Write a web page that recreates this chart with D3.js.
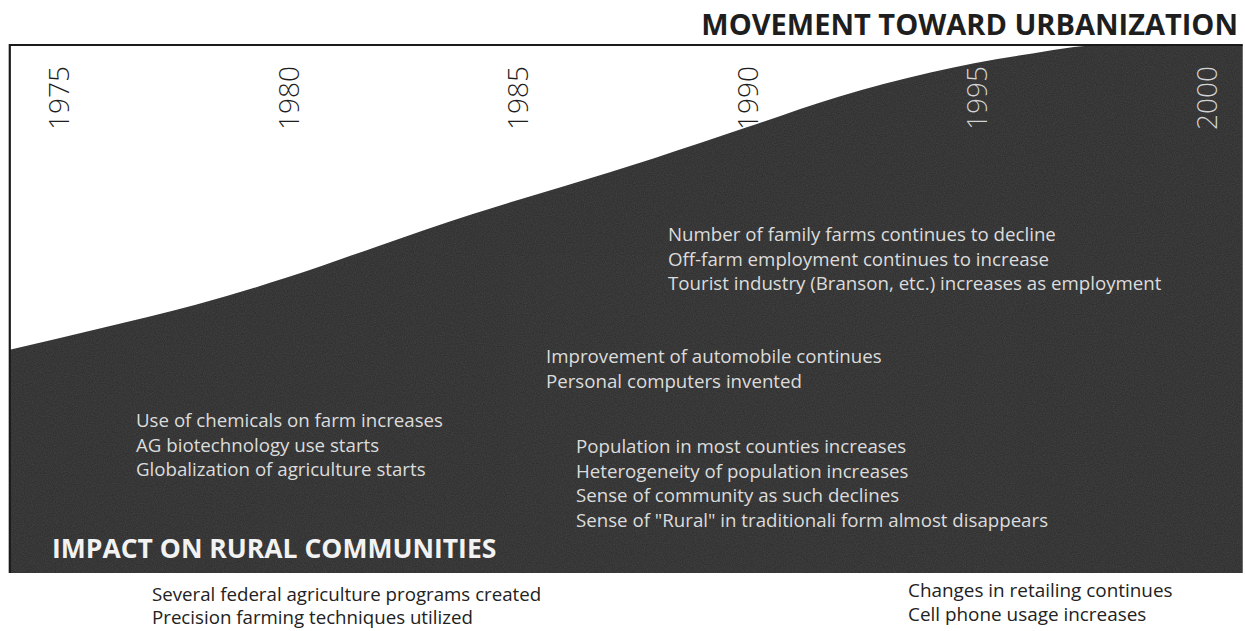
<!DOCTYPE html>
<html>
<head>
<meta charset="utf-8">
<script src="https://cdn.jsdelivr.net/npm/d3@7"></script>
<style>
  html, body { margin: 0; padding: 0; background: #fff; }
  svg { display: block; }
</style>
</head>
<body>
<svg id="chart" width="1245" height="631"></svg>
<script>
// ---------- data ----------
const yearTicks = [1975, 1980, 1985, 1990, 1995, 2000];
const curveYears  = [1973.95, 1976, 1978, 1980, 1982, 1984, 1986, 1988, 1990, 1992, 1994, 1996, 1997.8, 2000.8];
const curveValues = [42.3, 46.5, 50.8, 56.0, 62.0, 67.9, 73.2, 78.6, 84.4, 90.2, 94.8, 98.1, 100, 100];
const titleText = "MOVEMENT TOWARD URBANIZATION";
const impactText = "IMPACT ON RURAL COMMUNITIES";
const notesChemicals = ["Use of chemicals on farm increases", "AG biotechnology use starts", "Globalization of agriculture starts"];
const notesFarms = ["Number of family farms continues to decline", "Off-farm employment continues to increase", "Tourist industry (Branson, etc.) increases as employment"];
const notesAuto = ["Improvement of automobile continues", "Personal computers invented"];
const notesPopulation = ["Population in most counties increases", "Heterogeneity of population increases", "Sense of community as such declines", "Sense of \"Rural\" in traditionali form almost disappears"];
const notesFederal = ["Several federal agriculture programs created", "Precision farming techniques utilized"];
const notesRetail = ["Changes in retailing continues", "Cell phone usage increases"];

// ---------- layout ----------
const W = 1245, H = 631;
const svg = d3.select("#chart");
const x = d3.scaleLinear().domain([1975, 2000]).range([58, 1206]);
const y = d3.scaleLinear().domain([0, 100]).range([573, 45]);
const xStart = curveYears[0], xEnd = curveYears[curveYears.length - 1];
const font = "'Open Sans', 'Noto Sans', sans-serif";

const data = curveYears.map((yr, i) => ({ year: yr, value: curveValues[i] }));

const defs = svg.append("defs");
const area = d3.area()
  .x(d => x(d.year))
  .y0(y(0))
  .y1(d => y(d.value))
  .curve(d3.curveMonotoneX);

defs.append("clipPath").attr("id", "areaClip")
  .append("path").attr("d", area(data));

const noise = defs.append("filter").attr("id", "grain")
  .attr("x", 0).attr("y", 0).attr("width", "100%").attr("height", "100%");
noise.append("feTurbulence").attr("type", "fractalNoise")
  .attr("baseFrequency", 0.9).attr("numOctaves", 2).attr("seed", 3).attr("result", "n");
noise.append("feColorMatrix").attr("type", "matrix")
  .attr("values", "0 0 0 0 1  0 0 0 0 1  0 0 0 0 1  0 0 0 0.35 -0.05");

// dark area
svg.append("path")
  .attr("d", area(data))
  .attr("fill", "#2f2f2f");

svg.append("rect")
  .attr("x", x(xStart)).attr("y", y(100))
  .attr("width", x(xEnd) - x(xStart)).attr("height", y(0) - y(100))
  .attr("filter", "url(#grain)")
  .attr("clip-path", "url(#areaClip)")
  .attr("opacity", 0.35);

// frame: left and top lines
svg.append("path")
  .attr("d", `M${x(xStart)},${y(0)} L${x(xStart)},${y(100)} L${x(xEnd)},${y(100)}`)
  .attr("fill", "none")
  .attr("stroke", "#1a1a1a")
  .attr("stroke-width", 2.2);

// year labels (dark on white, light where covered by area)
function yearLabels(g, color) {
  g.selectAll("text").data(yearTicks).join("text")
    .attr("transform", d => `translate(${x(d)},98) rotate(-90)`)
    .attr("text-anchor", "middle")
    .attr("dominant-baseline", "central")
    .attr("font-family", font)
    .attr("font-weight", 300)
    .attr("font-size", 28)
    .attr("fill", color)
    .text(d => d);
}
yearLabels(svg.append("g"), "#1e1e1e");
yearLabels(svg.append("g").attr("clip-path", "url(#areaClip)"), "#d4d4d4");

// title
svg.append("text")
  .attr("x", 1238).attr("y", 35)
  .attr("text-anchor", "end")
  .attr("font-family", font)
  .attr("font-weight", 700)
  .attr("font-size", 29)
  .attr("fill", "#1e1e1e")
  .text(titleText);

// impact title
svg.append("text")
  .attr("x", 52).attr("y", 558)
  .attr("font-family", font)
  .attr("font-weight", 700)
  .attr("font-size", 26.5)
  .attr("fill", "#f2f2f2")
  .text(impactText);

// note blocks
function block(lines, x0, y0, color, size, weight, lh) {
  svg.append("g").selectAll("text").data(lines).join("text")
    .attr("x", x0)
    .attr("y", (d, i) => y0 + i * lh)
    .attr("font-family", font)
    .attr("font-size", size)
    .attr("font-weight", weight)
    .attr("fill", color)
    .text(d => d);
}
block(notesFarms, 668, 241, "#dcdcdc", 18.7, 400, 24.7);
block(notesAuto, 546, 363, "#dcdcdc", 18.7, 400, 24.7);
block(notesChemicals, 136, 427, "#dcdcdc", 18.7, 400, 24.7);
block(notesPopulation, 576, 453, "#dcdcdc", 18.7, 400, 24.7);
block(notesFederal, 152, 601, "#222", 18.7, 400, 23);
block(notesRetail, 908, 597, "#222", 18.9, 400, 24);
</script>
</body>
</html>
